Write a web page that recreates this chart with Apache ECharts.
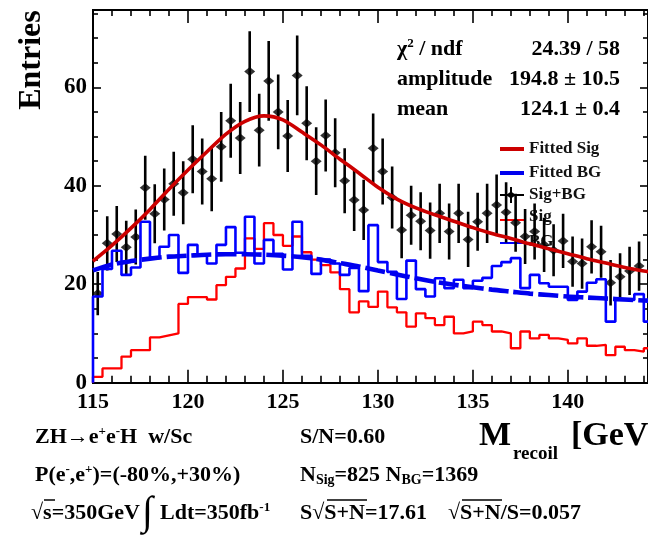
<!DOCTYPE html>
<html><head><meta charset="utf-8">
<script src="https://cdn.jsdelivr.net/npm/echarts@6/dist/echarts.min.js"></script>
<style>html,body{margin:0;padding:0;background:#fff}#c{width:648px;height:538px}</style>
</head><body><div id="c"></div>
<script>
// ---------------- data ----------------
const binWidth = 0.5;
const binCenters = [115.25,115.75,116.25,116.75,117.25,117.75,118.25,118.75,119.25,119.75,
  120.25,120.75,121.25,121.75,122.25,122.75,123.25,123.75,124.25,124.75,
  125.25,125.75,126.25,126.75,127.25,127.75,128.25,128.75,129.25,129.75,
  130.25,130.75,131.25,131.75,132.25,132.75,133.25,133.75,134.25,134.75,
  135.25,135.75,136.25,136.75,137.25,137.75,138.25,138.75,139.25,139.75,
  140.25,140.75,141.25,141.75,142.25,142.75,143.25,143.75,144.25,144.75];
const sigPlusBg = [18.1,28.3,30.2,27.5,29.6,39.6,34.3,37.2,40.4,38.6,
  45.4,42.9,41.4,47.9,53.2,49.7,63.2,51.3,61.3,55.0,
  50.1,62.4,52.7,45.0,50.2,46.7,41.0,37.1,35.1,47.6,
  42.9,37.6,31.0,34.0,32.8,30.9,34.4,30.7,34.4,29.1,
  32.7,34.4,36.1,34.6,32.5,29.7,30.7,28.0,26.9,28.8,
  24.6,24.2,27.6,26.6,20.3,21.5,22.7,23.7,19.3,22.0];
const sigPlusBgErr = [4.4,5.5,5.7,5.4,5.6,6.5,6.0,6.3,6.5,6.4,
  6.9,6.7,6.6,7.1,7.5,7.3,8.2,7.4,8.1,7.6,
  7.3,8.1,7.5,6.9,7.3,7.0,6.6,6.3,6.1,7.1,
  6.7,6.3,5.7,6.0,5.9,5.7,6.0,5.7,6.0,5.6,
  5.9,6.0,6.2,6.1,5.9,5.6,5.7,5.5,5.3,5.5,
  5.1,5.1,5.4,5.3,4.6,4.8,4.9,5.0,4.5,4.8];
const sigHist = [1.2,2.9,2.9,5.3,6.6,6.6,9.2,9.6,10.0,16.0,
  17.4,17.4,16.9,19.8,21.5,23.2,29.3,27.2,32.4,30.0,
  27.8,29.7,26.5,25.0,23.9,22.4,19.0,14.3,16.5,15.4,
  18.5,15.3,14.3,11.4,14.1,13.1,11.7,13.4,10.0,10.4,
  12.4,11.7,10.4,10.0,7.0,10.4,9.0,9.7,9.0,8.7,
  8.0,9.0,7.5,7.7,5.6,7.3,6.6,6.3,7.0,7.0];
const bgHist = [17.5,23.1,26.8,21.9,23.4,32.7,25.3,27.6,30.0,22.3,
  28.0,26.0,24.2,28.0,31.6,26.4,33.7,24.2,29.0,26.2,
  23.0,32.7,25.8,22.1,25.0,24.2,21.9,23.3,18.6,32.0,
  24.5,22.5,17.0,24.8,19.0,17.5,21.2,19.2,20.9,19.2,
  20.7,21.3,23.7,24.5,25.3,19.2,21.9,20.2,19.5,19.5,
  16.8,18.5,20.3,21.0,12.4,16.8,16.8,18.0,12.4,15.0];
const fitX = [115,116,117,118,119,120,121,122,123,124,125,126,127,128,129,130,
  131,132,133,134,135,136,137,138,139,140,141,142,143,144,145];
const fitSigY = [24.7,27.9,31.4,35.2,39.3,43.2,46.9,50.5,53.1,54.2,53.4,50.9,48.3,45.4,42.6,39.7,
  37.3,35.5,34.1,32.8,31.5,30.3,29.3,28.2,27.2,26.2,25.2,24.3,23.4,22.7,22.1];
const fitBgY = [22.8,24.0,24.7,25.2,25.6,25.8,26.0,26.1,26.1,26.0,25.8,25.5,25.0,24.3,23.6,22.8,
  22.0,21.2,20.5,19.9,19.4,18.9,18.5,18.1,17.8,17.5,17.3,17.1,16.9,16.7,16.6];
const xMajorTicks = [115,120,125,130,135,140];
const xMinorTicks = [116,117,118,119,121,122,123,124,126,127,128,129,131,132,133,134,136,137,138,139,141,142,143,144];
const yMajorTicks = [0,20,40,60];
const yMinorTicks = [5,10,15,25,30,35,45,50,55,65,70,75];
const xMin = 115, xMax = 144.22, yMin = 0, yMax = 75.7;

// ---------------- chart ----------------
const FF = '"Liberation Serif","Times New Roman",serif';
const chart = echarts.init(document.getElementById('c'), null, {renderer: 'canvas'});

function stepPoints(vals) {
  const pts = [[binCenters[0] - binWidth / 2, 0]];
  vals.forEach((v, i) => {
    pts.push([binCenters[i] - binWidth / 2, v]);
    pts.push([binCenters[i] + binWidth / 2, v]);
  });
  return pts;
}

function xAx(pos, ticks, len, showLabel) {
  return {
    type: 'value', position: pos, min: xMin, max: xMax,
    splitLine: {show: false}, minorTick: {show: false},
    axisLine: {show: true, onZero: false, lineStyle: {color: '#000', width: 2}},
    axisTick: {show: true, inside: true, length: len, customValues: ticks, lineStyle: {color: '#000', width: 1.6}},
    axisLabel: showLabel ? {show: true, customValues: ticks, color: '#000', fontFamily: FF, fontWeight: 'bold', fontSize: 22, margin: 9} : {show: false}
  };
}
function yAx(pos, ticks, len, showLabel) {
  return {
    type: 'value', position: pos, min: yMin, max: yMax,
    splitLine: {show: false}, minorTick: {show: false},
    axisLine: {show: true, onZero: false, lineStyle: {color: '#000', width: 2}},
    axisTick: {show: true, inside: true, length: len, customValues: ticks, lineStyle: {color: '#000', width: 1.6}},
    axisLabel: showLabel ? {show: true, customValues: ticks, color: '#000', fontFamily: FF, fontWeight: 'bold', fontSize: 23, margin: 6} : {show: false}
  };
}

const txt = (x, y, text, size, extra, z) => ({
  type: 'text', x: x, y: y, z: z == null ? 1 : z,
  style: Object.assign({text: text, fill: '#000', font: 'bold ' + size + 'px ' + FF, align: 'left', verticalAlign: 'middle'}, extra || {})
});
const richTxt = (x, y, text, size, subSize) => ({
  type: 'text', x: x, y: y, z: 1,
  style: {
    text: text, fill: '#000', align: 'left', verticalAlign: 'middle',
    fontFamily: FF, fontWeight: 'bold', fontSize: size,
    rich: {
      a: {fontFamily: FF, fontWeight: 'bold', fontSize: size, lineHeight: size + 2, fill: '#000'},
      p: {fontFamily: FF, fontWeight: 'bold', fontSize: subSize, verticalAlign: 'top', lineHeight: size + 2, fill: '#000'},
      b: {fontFamily: FF, fontWeight: 'bold', fontSize: subSize, verticalAlign: 'bottom', lineHeight: size + 2, fill: '#000'}
    }
  }
});
const ln = (x1, y1, x2, y2, color, w, z) => ({type: 'line', z: z == null ? 1 : z, shape: {x1, y1, x2, y2}, style: {stroke: color, lineWidth: w}});

const graphics = [
  // y title
  {type: 'text', x: 32, y: 60, rotation: Math.PI / 2, z: 1,
   style: {text: 'Entries', font: 'bold 32px ' + FF, fill: '#000', align: 'center', verticalAlign: 'middle'}},
  // stats box
  richTxt(397, 49, '{a|χ}{p|2}{a| / ndf}', 22, 13),
  txt(620, 49, '24.39 / 58', 22, {align: 'right'}),
  txt(397, 79, 'amplitude', 22),
  txt(620, 79, '194.8 ± 10.5', 22, {align: 'right'}),
  txt(397, 109, 'mean', 22),
  txt(620, 109, '124.1 ± 0.4', 22, {align: 'right'}),
  // legend
  ln(500, 149, 524, 149, '#cc0000', 4, 0),
  txt(529, 149, 'Fitted Sig', 17, {fill: '#111'}, 0),
  ln(500, 173, 524, 173, '#0000ee', 4, 0),
  txt(529, 173, 'Fitted BG', 17, {fill: '#111'}, 0),
  ln(500, 195, 524, 195, '#000', 2, 0),
  ln(511, 187, 511, 203, '#000', 2, 0),
  {type: 'polygon', z: 0, shape: {points: [[506, 195], [511, 191.5], [516, 195], [511, 198.5]]}, style: {fill: '#000'}},
  txt(529, 195, 'Sig+BG', 17, {fill: '#111'}, 0),
  ln(500, 220, 524, 220, '#ff0000', 2, 0),
  txt(529, 217, 'Sig', 17, {fill: '#111'}, 0),
  ln(500, 243, 524, 243, '#0000ff', 2, 0),
  txt(529, 242, 'BG', 17, {fill: '#111'}, 0),
  // bottom annotations
  richTxt(35, 437, '{a|ZH→e}{p|+}{a|e}{p|-}{a|H  w/Sc}', 22, 13),
  txt(300, 437, 'S/N=0.60', 22),
  txt(479, 436, 'M', 34),
  txt(513, 454, 'recoil', 19),
  txt(571, 436, '[GeV]', 34),
  richTxt(35, 475, '{a|P(e}{p|-}{a|,e}{p|+}{a|)=(-80%,+30%)}', 22, 13),
  richTxt(300, 475, '{a|N}{b|Sig}{a|=825 N}{b|BG}{a|=1369}', 22, 14),
  txt(31, 513, '√s=350GeV', 22),
  ln(44, 500, 55, 500, '#000', 1.5),
  txt(142, 514, '∫', 40),
  richTxt(160, 513, '{a|Ldt=350fb}{p|-1}', 22, 13),
  txt(300, 513, 'S√S+N=17.61', 22),
  ln(327, 500, 367, 500, '#000', 1.5),
  txt(448, 513, '√S+N/S=0.057', 22),
  ln(462, 500, 502, 500, '#000', 1.5)
];

const option = {
  animation: false,
  backgroundColor: '#fff',
  grid: {left: 93, top: 10, width: 556, height: 372.7, containLabel: false},
  xAxis: [xAx('bottom', xMajorTicks, 13, true), xAx('bottom', xMinorTicks, 7, false),
          xAx('top', xMajorTicks, 13, false), xAx('top', xMinorTicks, 6, false)],
  yAxis: [yAx('left', yMajorTicks, 8, true), yAx('left', yMinorTicks, 5, false),
          yAx('right', yMajorTicks, 8, false), yAx('right', yMinorTicks, 5, false)],
  graphic: graphics,
  series: [
    {type: 'custom', name: 'errbars', xAxisIndex: 0, yAxisIndex: 0, z: 3, clip: true,
     data: binCenters.map((x, i) => [x, sigPlusBg[i], sigPlusBgErr[i]]),
     renderItem: function (params, api) {
       const x = api.value(0), y = api.value(1), e = api.value(2);
       const p1 = api.coord([x, y - e]), p2 = api.coord([x, y + e]);
       return {type: 'line', shape: {x1: p1[0], y1: p1[1], x2: p2[0], y2: p2[1]}, style: {stroke: '#000', lineWidth: 2.6}};
     }},
    {type: 'scatter', name: 'Sig+BG', z: 3, symbol: 'diamond', symbolSize: [11, 9],
     itemStyle: {color: '#000'}, data: binCenters.map((x, i) => [x, sigPlusBg[i]])},
    {type: 'line', name: 'Sig', z: 4, showSymbol: false, symbol: 'none',
     lineStyle: {color: '#ff0000', width: 2.3}, data: stepPoints(sigHist)},
    {type: 'line', name: 'BG', z: 5, showSymbol: false, symbol: 'none',
     lineStyle: {color: '#0000ff', width: 2.6}, data: stepPoints(bgHist)},
    {type: 'line', name: 'Fitted Sig', z: 6, showSymbol: false, symbol: 'none', smooth: 0.3,
     lineStyle: {color: '#cc0000', width: 3.6}, data: fitX.map((x, i) => [x, fitSigY[i]])},
    {type: 'line', name: 'Fitted BG', z: 7, showSymbol: false, symbol: 'none', smooth: 0.3,
     lineStyle: {color: '#0000ee', width: 4.6, type: [20, 5]}, data: fitX.map((x, i) => [x, fitBgY[i]])}
  ]
};
chart.setOption(option);
</script>
</body></html>
